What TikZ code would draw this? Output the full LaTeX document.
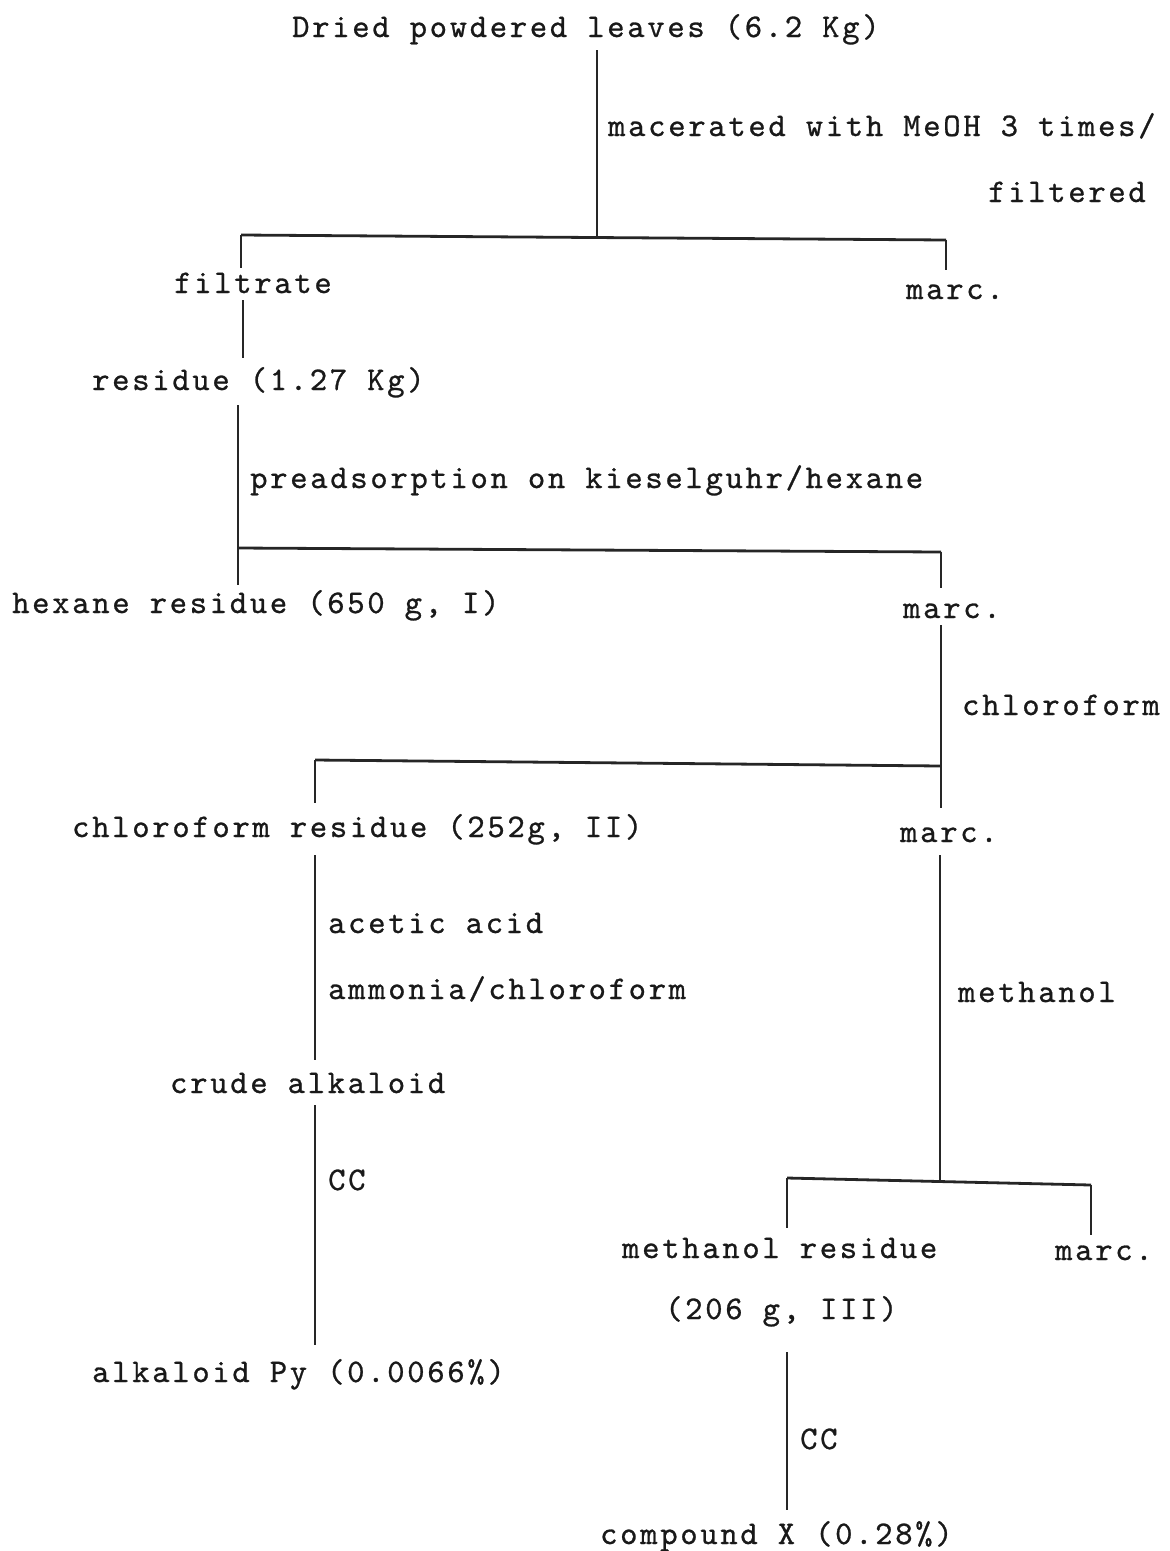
\documentclass[tikz,border=0pt]{standalone}
\usepackage{fontspec}
\newfontfamily\typewfam{lmmono10-regular.otf}[LetterSpace=8.2,FakeBold=0.8]
\newcommand{\typew}{\typewfam\fontsize{33}{40}\selectfont}
\begin{document}
\begin{tikzpicture}[x=1pt,y=-1pt,
  txt/.style={inner sep=0pt, anchor=base west, font=\typew, text=black!90},
  ln/.style={line width=2.2pt, draw=black!85},
  bar/.style={line width=2.8pt, draw=black!85}]
\useasboundingbox (0,0) rectangle (1170,1551);
% texts
\node[txt] (top) at (292,37) {Dried powdered leaves (6.2 Kg)};
\node[txt] (mac) at (608,136) {macerated with MeOH 3 times/};
\node[txt] (filt) at (988,202) {filtered};
\node[txt] (filtrate) at (174,293) {filtrate};
\node[txt] (marcA) at (906,299) {marc.};
\node[txt] (residue) at (92,390) {residue (1.27 Kg)};
\node[txt] (pre) at (250,488) {preadsorption on kieselguhr/hexane};
\node[txt] (hex) at (12,613) {hexane residue (650 g, I)};
\node[txt] (marcB) at (903,618) {marc.};
\node[txt] (chl) at (962,715) {chloroform};
\node[txt] (chlres) at (72,837) {chloroform residue (252g, II)};
\node[txt] (marcC) at (900,842) {marc.};
\node[txt] (acetic) at (328,933) {acetic acid};
\node[txt] (ammonia) at (328,999) {ammonia/chloroform};
\node[txt] (crude) at (170,1093) {crude alkaloid};
\node[txt] (ccA) at (328,1190) {CC};
\node[txt] (alk) at (92,1382) {alkaloid Py (0.0066\%)};
\node[txt] (meth) at (958,1002) {methanol};
\node[txt] (methres) at (622,1258) {methanol residue};
\node[txt] (marcD) at (1055,1260) {marc.};
\node[txt] (amt) at (665,1319) {(206 g, III)};
\node[txt] (ccB) at (800,1449) {CC};
\node[txt] (comp) at (600,1544) {compound X (0.28\%)};
% junction coordinates
\coordinate (a0) at (597,50);
\coordinate (a1) at (597,236);
\coordinate (bL1) at (241,235);
\coordinate (bR1) at (946,240);
\coordinate (fL) at (241,268);
\coordinate (fR) at (946,270);
\coordinate (c0) at (243,300);
\coordinate (c1) at (243,358);
\coordinate (d0) at (238,405);
\coordinate (bL2) at (238,548);
\coordinate (bR2) at (941,552);
\coordinate (gL) at (238,585);
\coordinate (gR) at (941,588);
\coordinate (e0) at (941,625);
\coordinate (bR3) at (941,766);
\coordinate (e1) at (941,808);
\coordinate (bL3) at (315,760);
\coordinate (hL) at (315,803);
\coordinate (k0) at (315,855);
\coordinate (k1) at (315,1060);
\coordinate (m0) at (315,1105);
\coordinate (m1) at (315,1345);
\coordinate (n0) at (940,855);
\coordinate (n1) at (940,1183);
\coordinate (bL4) at (787,1178);
\coordinate (bR4) at (1091,1185);
\coordinate (pL) at (787,1228);
\coordinate (pR) at (1091,1235);
\coordinate (q0) at (787,1352);
\coordinate (q1) at (787,1510);
% connectors
\draw[ln] (a0) -- (a1);
\draw[bar] (bL1) -- (bR1);
\draw[ln] (bL1) -- (fL);
\draw[ln] (bR1) -- (fR);
\draw[ln] (c0) -- (c1);
\draw[ln] (d0) -- (bL2);
\draw[bar] (bL2) -- (bR2);
\draw[ln] (bL2) -- (gL);
\draw[ln] (bR2) -- (gR);
\draw[ln] (e0) -- (e1);
\draw[bar] (bL3) -- (bR3);
\draw[ln] (bL3) -- (hL);
\draw[ln] (k0) -- (k1);
\draw[ln] (m0) -- (m1);
\draw[ln] (n0) -- (n1);
\draw[bar] (bL4) -- (bR4);
\draw[ln] (bL4) -- (pL);
\draw[ln] (bR4) -- (pR);
\draw[ln] (q0) -- (q1);
\end{tikzpicture}
\end{document}
